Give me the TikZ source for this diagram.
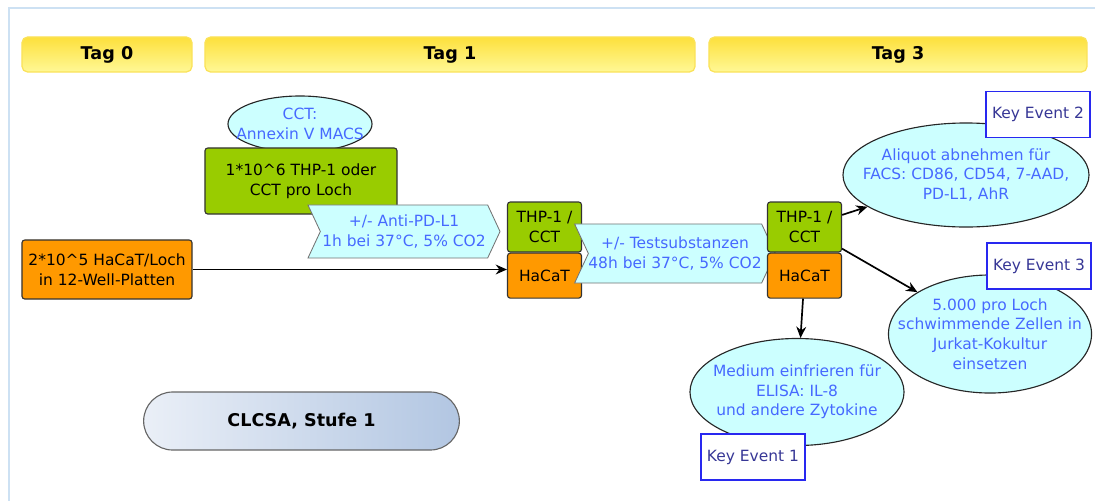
\documentclass[tikz,border=0pt]{standalone}
\usepackage{fontspec}
\setmainfont{DejaVu Sans}
\usetikzlibrary{arrows.meta,positioning,shapes.geometric,shapes.symbols,shapes.misc}
\definecolor{tagtop}{RGB}{253,224,60}
\definecolor{tagbot}{RGB}{255,248,150}
\definecolor{tagline}{RGB}{250,226,90}
\definecolor{grn}{RGB}{153,204,0}
\definecolor{org}{RGB}{255,153,0}
\definecolor{cyanfill}{RGB}{204,255,255}
\definecolor{bluetxt}{RGB}{70,105,255}
\definecolor{keytxt}{RGB}{55,55,150}
\definecolor{keyline}{RGB}{40,40,240}
\definecolor{frameline}{RGB}{205,225,243}
\definecolor{pillL}{RGB}{234,239,247}
\definecolor{pillR}{RGB}{178,198,226}
\tikzset{
  txt/.style={font=\fontsize{11}{14}\selectfont,align=center},
  tagbar/.style={draw=tagline,line width=0.9pt,rounded corners=4pt,top color=tagtop,bottom color=tagbot,minimum height=0.875cm,font=\fontsize{12.5}{15}\selectfont\bfseries},
  cellbox/.style={txt,draw=black!80,line width=0.8pt,rounded corners=2pt,inner sep=1pt},
  grnbox/.style={cellbox,fill=grn},
  orgbox/.style={cellbox,fill=org},
  readout/.style={ellipse,draw=black!85,line width=0.8pt,fill=cyanfill,inner sep=0pt,
    label={[txt,text=bluetxt]center:{#1}}},
  incub/.style={txt,signal,signal to=east,signal from=west,signal pointer angle=130,draw=black!55,line width=0.6pt,fill=cyanfill,text=bluetxt,inner sep=0pt},
  keybox/.style={txt,draw=keyline,line width=0.9pt,fill=white,text=keytxt,minimum width=2.6cm,minimum height=1.15cm},
  arr/.style={-{Stealth[length=8pt,width=7pt]},line width=1.2pt}
}
\begin{document}
\begin{tikzpicture}[x=0.025cm,y=-0.025cm]
  \useasboundingbox (0,0) rectangle (1095,501);
  \draw[frameline,line width=1pt] (1095,8) -| (9,501);

  % day headers
  \node[tagbar,minimum width=4.25cm] (tag0) at (107,54.5) {Tag 0};
  \node[tagbar,minimum width=12.25cm] (tag1) at (450,54.5) {Tag 1};
  \node[tagbar,minimum width=9.45cm] (tag3) at (898,54.5) {Tag 3};

  % Tag 0 / Tag 1
  \node[readout={CCT:\\Annexin V MACS},minimum width=3.6cm,minimum height=1.4cm] (cct) at (300,124) {};
  \node[grnbox,minimum width=4.8cm,minimum height=1.65cm] (thp0) at (301,181) {1*10\textasciicircum6 THP-1 oder\\CCT pro Loch};
  \node[incub,minimum width=4.8cm,minimum height=1.325cm] (chev1) at (404,231.5) {+/- Anti-PD-L1\\1h bei 37°C, 5\% CO2};
  \node[orgbox,minimum width=4.25cm,minimum height=1.475cm] (hacat0) at (107,269.5) {2*10\textasciicircum5 HaCaT/Loch\\in 12-Well-Platten};

  \node[grnbox,minimum width=1.85cm,minimum height=1.25cm] (thp1) at (544.5,227) {THP-1 /\\CCT};
  \node[orgbox,minimum width=1.85cm,minimum height=1.125cm,below=0pt of thp1] (hacat1) {HaCaT};
  \node[incub,minimum width=4.65cm,minimum height=1.475cm] (chev2) at (675,253.5) {+/- Testsubstanzen\\48h bei 37°C, 5\% CO2};

  % Tag 3
  \node[grnbox,minimum width=1.85cm,minimum height=1.25cm] (thp3) at (804.5,227) {THP-1 /\\CCT};
  \node[orgbox,minimum width=1.85cm,minimum height=1.125cm,below=0pt of thp3] (hacat3) {HaCaT};

  \node[readout={Aliquot abnehmen für\\FACS: CD86, CD54, 7-AAD,\\PD-L1, AhR},minimum width=6.15cm,minimum height=2.6cm] (facs) at (966,175) {};
  \node[readout={5.000 pro Loch\\schwimmende Zellen in\\Jurkat-Kokultur\\einsetzen},minimum width=5.075cm,minimum height=2.95cm] (jurkat) at (990,334) {};
  \node[readout={Medium einfrieren für\\ELISA: IL-8\\und andere Zytokine},minimum width=5.35cm,minimum height=2.675cm] (elisa) at (797,392) {};

  \node[keybox] (ke2) at (1038,114.5) {Key Event 2};
  \node[keybox] (ke3) at (1039,266) {Key Event 3};
  \node[keybox] (ke1) at (753,457) {Key Event 1};

  \draw[arr] (hacat0.east) -- (hacat0.east -| hacat1.west);
  \draw[arr] (thp3) -- (facs);
  \draw[arr] (thp3) -- (jurkat);
  \draw[arr] (hacat3) -- (elisa);

  \node[rounded rectangle,draw=black!60,line width=0.8pt,left color=pillL,right color=pillR,minimum width=8.125cm,minimum height=1.45cm,font=\fontsize{12.5}{15}\selectfont\bfseries] (clcsa) at (301.5,421) {CLCSA, Stufe 1};
\end{tikzpicture}
\end{document}
